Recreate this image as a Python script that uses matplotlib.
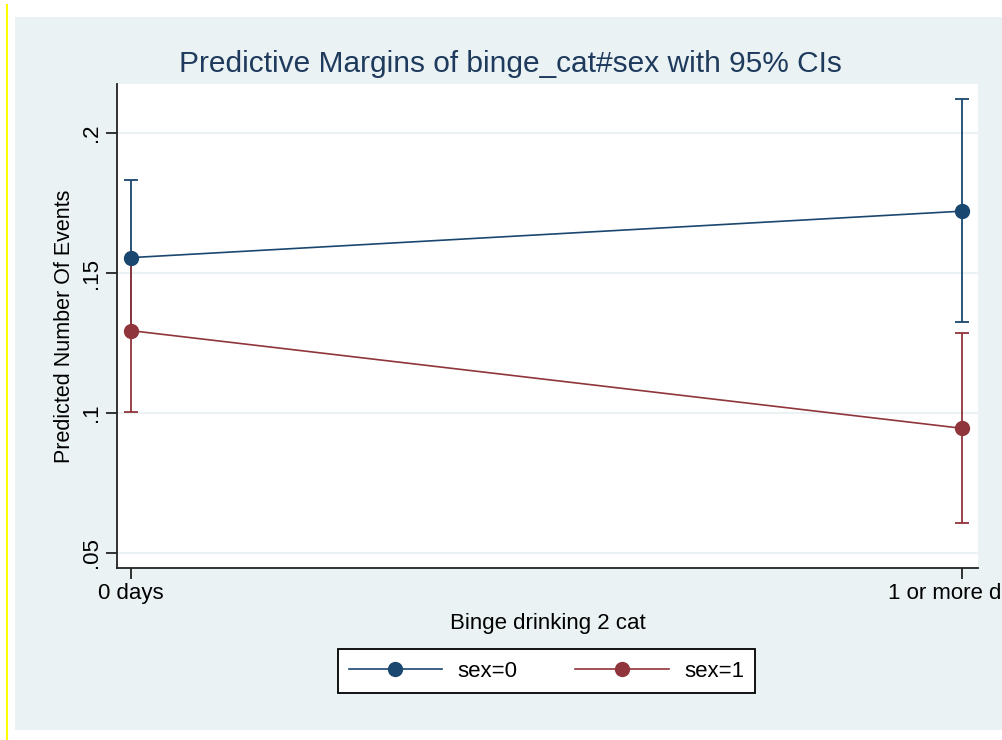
import matplotlib
matplotlib.use('Agg')
import matplotlib.pyplot as plt
from matplotlib.patches import Rectangle
from matplotlib.lines import Line2D

# ---- data ----
categories = ['0 days', '1 or more days']
x_pos = [0, 1]
series = ['sex=0', 'sex=1']
margin_sex0 = [0.1555, 0.1721]
lo_sex0 = [0.1294, 0.1326]
hi_sex0 = [0.1832, 0.2120]
margin_sex1 = [0.1294, 0.0945]
lo_sex1 = [0.1005, 0.0608]
hi_sex1 = [0.1555, 0.1285]
yticks = [0.05, 0.10, 0.15, 0.20]
ytick_labels = ['.05', '.1', '.15', '.2']

blue = '#1a476f'
red = '#90353b'
panel = '#eaf2f3'

plt.rcParams['font.family'] = ['Liberation Sans', 'DejaVu Sans']

fig = plt.figure(figsize=(10.02, 7.40), dpi=100)
fig.patch.set_facecolor('white')

# stata-like graph region + the yellow margin line
fig.add_artist(Rectangle((0.015, 0.0135), 0.985, 0.9635, transform=fig.transFigure,
                         facecolor=panel, edgecolor='none', zorder=-10))
fig.add_artist(Line2D([0.007, 0.007], [0.0, 0.993], transform=fig.transFigure,
                      color='#ffff00', lw=1.5))

ax = fig.add_axes([0.1168, 0.2324, 0.8594, 0.654])
ax.set_facecolor('white')

for m, lo, hi, c, lab in [(margin_sex0, lo_sex0, hi_sex0, blue, series[0]),
                          (margin_sex1, lo_sex1, hi_sex1, red, series[1])]:
    yerr = [[mm - l for mm, l in zip(m, lo)], [h - mm for mm, h in zip(m, hi)]]
    ax.errorbar(x_pos, m, yerr=yerr, fmt='none', ecolor=c, elinewidth=1.3,
                capsize=5, capthick=1.3, zorder=3)
for m, c, lab in [(margin_sex0, blue, series[0]), (margin_sex1, red, series[1])]:
    ax.plot(x_pos, m, color=c, lw=1.2, marker='o', markersize=10, label=lab, zorder=4)

ax.set_xlim(-0.017, 1.019)
ax.set_ylim(0.0446, 0.2175)
ax.set_xticks(x_pos)
ax.set_xticklabels(categories, fontsize=16)
ax.set_yticks(yticks)
ax.set_yticklabels(ytick_labels, fontsize=16, rotation=90, va='center')
ax.grid(axis='y', color=panel, lw=1.5, zorder=0)
ax.set_axisbelow(True)

for s in ['top', 'right']:
    ax.spines[s].set_visible(False)
for s in ['left', 'bottom']:
    ax.spines[s].set_color('#222222')
    ax.spines[s].set_linewidth(1.3)
ax.tick_params(axis='both', length=8, width=1.3, color='#222222', pad=3)

ax.set_ylabel('Predicted Number Of Events', fontsize=15.5, labelpad=4)
ax.set_xlabel('Binge drinking 2 cat', fontsize=16, labelpad=6)
fig.text(0.509, 0.913, 'Predictive Margins of binge_cat#sex with 95% CIs',
         ha='center', va='center', fontsize=21.5, color='#1e3a5c')

leg = fig.legend(loc='center', bbox_to_anchor=(0.5454, 0.0932), ncol=2, fontsize=16,
                 frameon=True, fancybox=False, edgecolor='black', handlelength=4.2,
                 columnspacing=2.6, handletextpad=0.7, borderpad=0.5,
                 framealpha=1)
leg.get_frame().set_linewidth(1.3)

fig.savefig('out.png', dpi=100)
